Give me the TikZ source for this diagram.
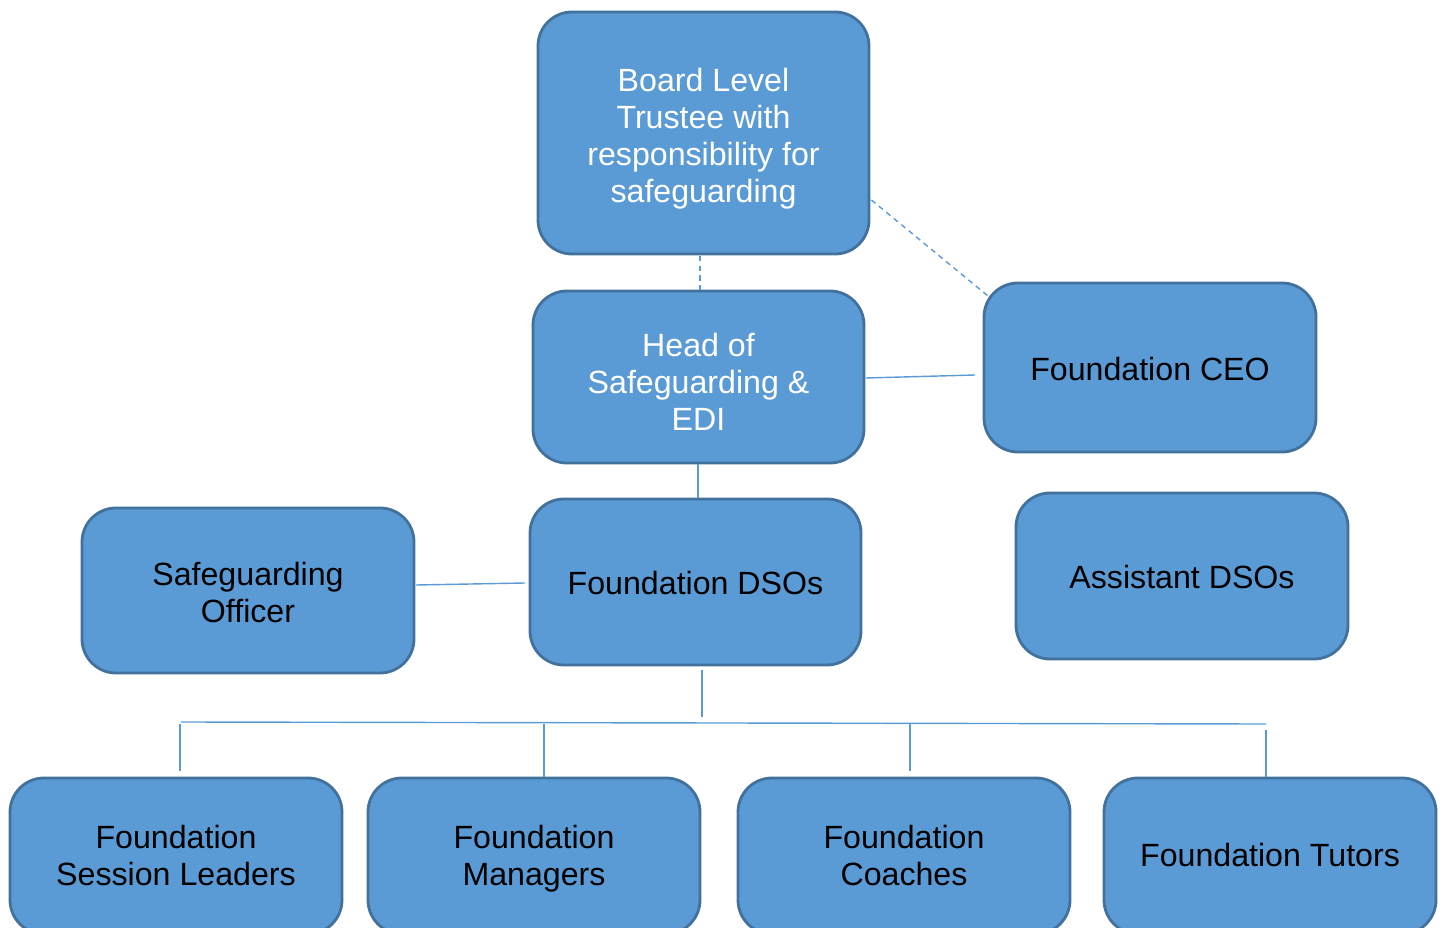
\documentclass[tikz,border=0pt]{standalone}
\usepackage{fontspec}
\setmainfont{Liberation Sans}
\newcommand\mytdown{5.6pt}
\newcommand\tb{\rule{0pt}{\dimexpr 14.7pt+\mytdown\relax}}
\begin{document}
\begin{tikzpicture}[x=0.02cm,y=-0.02cm,
  tdown/.code={\renewcommand\mytdown{#1}},
  box/.style={draw=boxline,fill=boxfill,line width=1.6pt,rounded corners=0.68cm,
     align=center,inner sep=0pt,font=\fontsize{18.3}{21}\selectfont,
     execute at end node=\strut},
  wtxt/.style={text=white},
  btxt/.style={text=black},
  link/.style={draw=linkc,line width=0.8pt},
  dlink/.style={draw=linkc,line width=0.8pt,dash pattern=on 3pt off 2.5pt}]
\definecolor{boxfill}{HTML}{5B9BD5}
\definecolor{boxline}{HTML}{41719C}
\definecolor{linkc}{HTML}{5B9BD5}
\useasboundingbox (0,0) rectangle (1446,928);
\begin{scope}
\clip (0,0) rectangle (1446,928);
\node[box,wtxt,tdown=7.5pt,minimum width={331*0.02cm},minimum height={242*0.02cm}] (board) at (703.5,133) {\tb Board Level\\Trustee with\\responsibility for\\safeguarding};
\node[box,wtxt,tdown=10.5pt,minimum width={331*0.02cm},minimum height={172*0.02cm}] (head) at (698.5,377) {\tb Head of\\Safeguarding \&\\EDI};
\node[box,btxt,tdown=6.5pt,minimum width={332*0.02cm},minimum height={169*0.02cm}] (ceo) at (1150,367.5) {\tb Foundation CEO};
\node[box,btxt,tdown=5.6pt,minimum width={331*0.02cm},minimum height={166*0.02cm}] (dsos) at (695.5,582) {\tb Foundation DSOs};
\node[box,btxt,tdown=6.5pt,minimum width={332*0.02cm},minimum height={165*0.02cm}] (so) at (248,590.5) {\tb Safeguarding\\Officer};
\node[box,btxt,tdown=5.6pt,minimum width={332*0.02cm},minimum height={166*0.02cm}] (adsos) at (1182,576) {\tb Assistant DSOs};
\node[box,btxt,tdown=4.5pt,minimum width={332*0.02cm},minimum height={156*0.02cm}] (fsl) at (176,856) {\tb Foundation\\Session Leaders};
\node[box,btxt,tdown=4.5pt,minimum width={332*0.02cm},minimum height={156*0.02cm}] (fm) at (534,856) {\tb Foundation\\Managers};
\node[box,btxt,tdown=4.5pt,minimum width={332*0.02cm},minimum height={156*0.02cm}] (fc) at (904,856) {\tb Foundation\\Coaches};
\node[box,btxt,tdown=3.4pt,minimum width={332*0.02cm},minimum height={156*0.02cm}] (ft) at (1270,856) {\tb Foundation Tutors};
\end{scope}
% free ends
\coordinate (ceoL) at (975,375);
\coordinate (dsoL) at (525,583);
\coordinate (dsoB) at (702,670);
\coordinate (busD) at (702,717);
\coordinate (busL) at (181,722);
\coordinate (busR) at (1266,724);
\coordinate (v1t) at (180,724);
\coordinate (v1b) at (180,771);
\coordinate (v2t) at (544,724);
\coordinate (v2b) at (544,777);
\coordinate (v3t) at (910,724);
\coordinate (v3b) at (910,771);
\coordinate (v4t) at (1266,730);
\coordinate (v4b) at (1266,777);
\draw[dlink] (700,256) -- (700,290);
\draw[dlink] (board.east |- 0,200) ++(1,0) -- (988,296);
\draw[link] (866,378) -- (ceoL);
\draw[link] (698,464) -- (698,498);
\draw[link] (416,585) -- (dsoL);
\draw[link] (dsoB) -- (busD);
\draw[link] (busL) -- (busR);
\draw[link] (v1t) -- (v1b);
\draw[link] (v2t) -- (v2b);
\draw[link] (v3t) -- (v3b);
\draw[link] (v4t) -- (v4b);
\end{tikzpicture}
\end{document}
